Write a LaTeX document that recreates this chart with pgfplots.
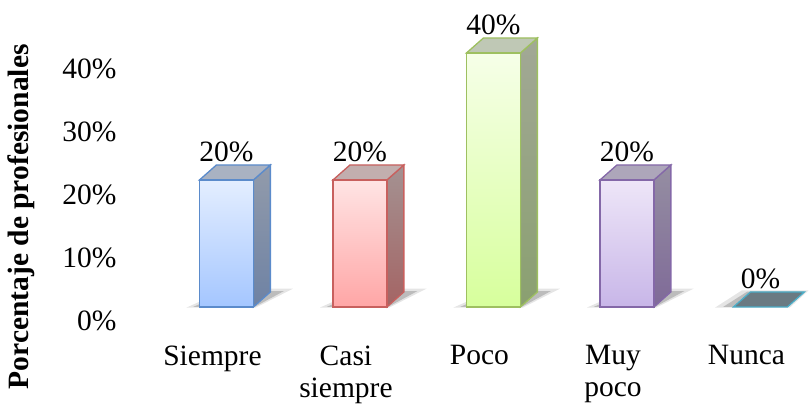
\documentclass[border=0pt]{standalone}
\usepackage{fontspec}
\setmainfont{Liberation Serif}
\usepackage{pgfplots}
\pgfplotsset{compat=1.18}
\newcommand\fs{\fontsize{29.5}{32}\selectfont}
\definecolor{bF1}{HTML}{E4EEFF}\definecolor{bF2}{HTML}{A4C6FF}\definecolor{bE}{HTML}{5B8BCB}
\definecolor{bS1}{HTML}{929BAB}\definecolor{bS2}{HTML}{6E82A4}\definecolor{bT}{HTML}{A9B2C2}
\definecolor{rF1}{HTML}{FFE4E4}\definecolor{rF2}{HTML}{FFA6A6}\definecolor{rE}{HTML}{C8605E}
\definecolor{rS1}{HTML}{A49292}\definecolor{rS2}{HTML}{A46464}\definecolor{rT}{HTML}{C2AEAE}
\definecolor{gF1}{HTML}{F6FFE8}\definecolor{gF2}{HTML}{D7FF9C}\definecolor{gE}{HTML}{9EC060}
\definecolor{gS1}{HTML}{A2A896}\definecolor{gS2}{HTML}{8AA070}\definecolor{gT}{HTML}{BFC8B5}
\definecolor{pF1}{HTML}{EEE6F8}\definecolor{pF2}{HTML}{C8B6E8}\definecolor{pE}{HTML}{8468A8}
\definecolor{pS1}{HTML}{958EA2}\definecolor{pS2}{HTML}{7F6A98}\definecolor{pT}{HTML}{ADA6BA}
\definecolor{nT}{HTML}{6A7A82}\definecolor{nE}{HTML}{4BACC6}
\begin{document}
\begin{tikzpicture}
\useasboundingbox (-125pt,-83pt) rectangle (687pt,326pt);
\begin{axis}[
 at={(0,0)}, anchor=south west,
 scale only axis, width=687pt, height=321.3pt,
 xmin=-0.76, xmax=4.386, ymin=-3, ymax=47.6,
 axis line style={draw=none}, tick style={draw=none},
 xtick={0,1,2,3,4},
 xticklabels={Siempre, Casi\\siempre, Poco, Muy\\poco, Nunca},
 xticklabel style={align=center, xshift=-14pt, yshift=-16pt, font=\fs, anchor=north},
 ytick={-2.2,7.72,17.63,27.55,37.47},
 yticklabels={0\%,10\%,20\%,30\%,40\%},
 yticklabel style={font=\fs, xshift=-5pt},
 ylabel={Porcentaje de profesionales},
 every axis y label/.style={at={(axis description cs:-0.151,0.34)}, rotate=90, anchor=center, font=\fs\bfseries},
 clip=false,
 /pgf/number format/assume math mode=true,
]
% shadows
\pgfplotsinvokeforeach{0,1,2,3}{
\addplot[fill=black, opacity=0.10, draw=none] coordinates {(#1-0.30,-0.1)(#1+0.22,-0.1)(#1+0.50,2.9)(#1+0.02,2.9)} --cycle;
\addplot[fill=black, opacity=0.18, draw=none] coordinates {(#1-0.25,0)(#1+0.21,0)(#1+0.43,2.5)(#1+0.02,2.5)} --cycle;
}
\addplot[fill=black, opacity=0.10, draw=none] coordinates {(3.66,-0.1)(4.22,-0.1)(4.36,2.6)(3.86,2.6)} --cycle;
\addplot[fill=black, opacity=0.18, draw=none] coordinates {(3.72,0)(4.2,0)(4.33,2.4)(3.9,2.4)} --cycle;
% Siempre
\addplot[draw=bE, line width=1.3pt, top color=bS1, bottom color=bS2] coordinates {(0.202,0)(0.329,2.36)(0.329,22.36)(0.202,20)} --cycle;
\addplot[draw=bE, line width=1.3pt, fill=bT] coordinates {(-0.202,20)(-0.075,22.36)(0.329,22.36)(0.202,20)} --cycle;
\addplot[draw=bE, line width=1.3pt, top color=bF1, bottom color=bF2] coordinates {(-0.202,0)(0.202,0)(0.202,20)(-0.202,20)} --cycle;
% Casi siempre
\addplot[draw=rE, line width=1.3pt, top color=rS1, bottom color=rS2] coordinates {(1.202,0)(1.329,2.36)(1.329,22.36)(1.202,20)} --cycle;
\addplot[draw=rE, line width=1.3pt, fill=rT] coordinates {(0.798,20)(0.925,22.36)(1.329,22.36)(1.202,20)} --cycle;
\addplot[draw=rE, line width=1.3pt, top color=rF1, bottom color=rF2] coordinates {(0.798,0)(1.202,0)(1.202,20)(0.798,20)} --cycle;
% Poco
\addplot[draw=gE, line width=1.3pt, top color=gS1, bottom color=gS2] coordinates {(2.202,0)(2.329,2.36)(2.329,42.36)(2.202,40)} --cycle;
\addplot[draw=gE, line width=1.3pt, fill=gT] coordinates {(1.798,40)(1.925,42.36)(2.329,42.36)(2.202,40)} --cycle;
\addplot[draw=gE, line width=1.3pt, top color=gF1, bottom color=gF2] coordinates {(1.798,0)(2.202,0)(2.202,40)(1.798,40)} --cycle;
% Muy poco
\addplot[draw=pE, line width=1.3pt, top color=pS1, bottom color=pS2] coordinates {(3.202,0)(3.329,2.36)(3.329,22.36)(3.202,20)} --cycle;
\addplot[draw=pE, line width=1.3pt, fill=pT] coordinates {(2.798,20)(2.925,22.36)(3.329,22.36)(3.202,20)} --cycle;
\addplot[draw=pE, line width=1.3pt, top color=pF1, bottom color=pF2] coordinates {(2.798,0)(3.202,0)(3.202,20)(2.798,20)} --cycle;
% Nunca
\addplot[draw=nE, line width=1.3pt, fill=nT] coordinates {(3.798,0)(3.925,2.36)(4.329,2.36)(4.202,0)} --cycle;
% labels
\addplot[only marks, mark=none, point meta=explicit, nodes near coords={\pgfmathprintnumber{\pgfplotspointmeta}\%},
 every node near coord/.append style={anchor=base, yshift=18pt, font=\fs, text=black}]
 coordinates {(0,20) [20] (1,20) [20] (2,40) [40] (3,20) [20] (4,0) [0]};
\end{axis}
\end{tikzpicture}
\end{document}
